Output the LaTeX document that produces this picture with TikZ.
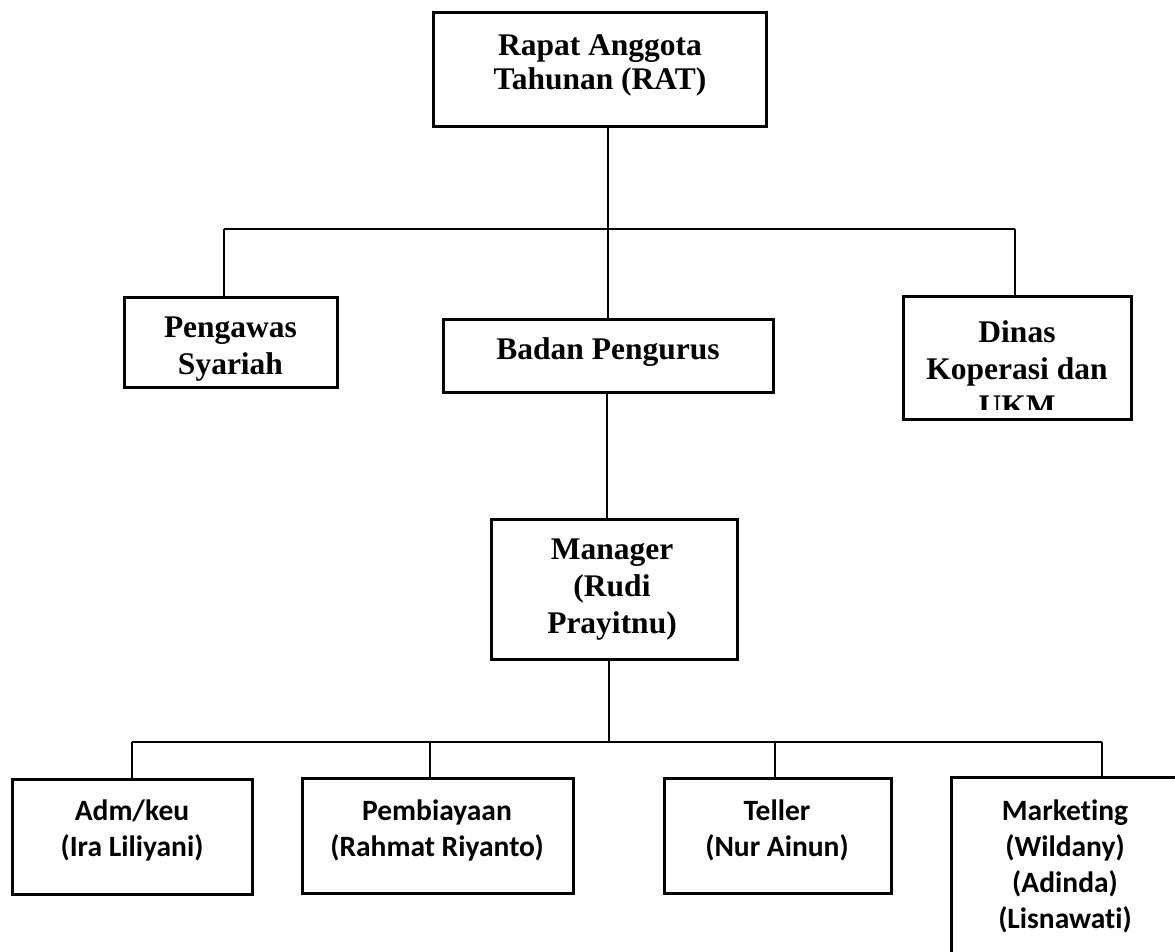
\documentclass[tikz,border=0pt]{standalone}
\usepackage{fontspec}
\setmainfont{Liberation Serif}
\newfontfamily\calfont[Ligatures={NoCommon}]{Carlito}
\tikzset{
  box/.style={draw, line width=3pt, inner sep=0pt, outer sep=0pt, anchor=north west},
  conn/.style={line width=2pt},
  ttxt/.style={anchor=north, inner sep=0pt, align=center, font=\fontsize{31.5}{37}\selectfont\bfseries},
  ctxt/.style={anchor=north, inner sep=0pt, align=center, font=\calfont\fontsize{29.5}{36}\selectfont\bfseries},
}
\begin{document}
\begin{tikzpicture}[x=1pt,y=1pt]
\useasboundingbox (0,0) rectangle (1175,-951);
\clip (0,0) rectangle (1175,-951);
% boxes
\node[box, minimum width=333pt, minimum height=114pt] (rat) at (433,-12) {};
\node[box, minimum width=213pt, minimum height=90pt] (peng) at (124,-297) {};
\node[box, minimum width=330pt, minimum height=73pt] (badan) at (443,-319) {};
\node[box, minimum width=228pt, minimum height=123pt] (dinas) at (903,-296) {};
\node[box, minimum width=246pt, minimum height=140pt] (mgr) at (491,-519) {};
\node[box, minimum width=240pt, minimum height=115pt] (adm) at (12,-779) {};
\node[box, minimum width=271pt, minimum height=115pt] (pemb) at (302,-778) {};
\node[box, minimum width=227pt, minimum height=115pt] (teller) at (664,-778) {};
\node[box, minimum width=228pt, minimum height=220pt] (mkt) at (951,-777) {};
% texts
\node[ttxt, font=\fontsize{31.5}{34}\selectfont\bfseries] (tRat) at (600,-35) {Rapat Anggota\\Tahunan (RAT)};
\node[ttxt] (tPeng) at (230.5,-317) {Pengawas\\Syariah};
\node[ttxt] (tBadan) at (608,-337) {Badan Pengurus};
\begin{scope}
\clip (905,-298) rectangle (1129,-409);
\node[ttxt] (tDinas) at (1017,-320) {Dinas\\Koperasi dan\\UKM};
\end{scope}
\node[ttxt] (tMgr) at (612,-539) {Manager\\(Rudi\\Prayitnu)};
\node[ctxt] (tAdm) at (132,-800) {Adm/keu\\(Ira Liliyani)};
\node[ctxt] (tPemb) at (437,-800) {Pembiayaan\\(Rahmat Riyanto)};
\node[ctxt] (tTeller) at (777,-800) {Teller\\(Nur Ainun)};
\node[ctxt] (tMkt) at (1065,-800) {Marketing\\(Wildany)\\(Adinda)\\(Lisnawati)};
% junctions
\coordinate (busA) at (224,-229);
\coordinate (busB) at (1015,-229);
\coordinate (busC) at (132,-742);
\coordinate (busD) at (1102,-742);
% connectors top
\draw[conn] (badan.north |- rat.south) -- (badan.north);
\draw[conn] (busA) -- (busB);
\draw[conn] (busA) -- (busA |- peng.north);
\draw[conn] (busB) -- (busB |- dinas.north);
\draw[conn] (badan.south -| 607,0) -- (mgr.north -| 607,0);
% connectors bottom
\draw[conn] (mgr.south -| 609,0) -- (609,-742);
\draw[conn] (busC) -- (busD);
\draw[conn] (busC) -- (adm.north);
\draw[conn] (busC -| 430,0) -- (pemb.north -| 430,0);
\draw[conn] (busC -| 775,0) -- (teller.north -| 775,0);
\draw[conn] (busD) -- (busD |- mkt.north);
\end{tikzpicture}
\end{document}
